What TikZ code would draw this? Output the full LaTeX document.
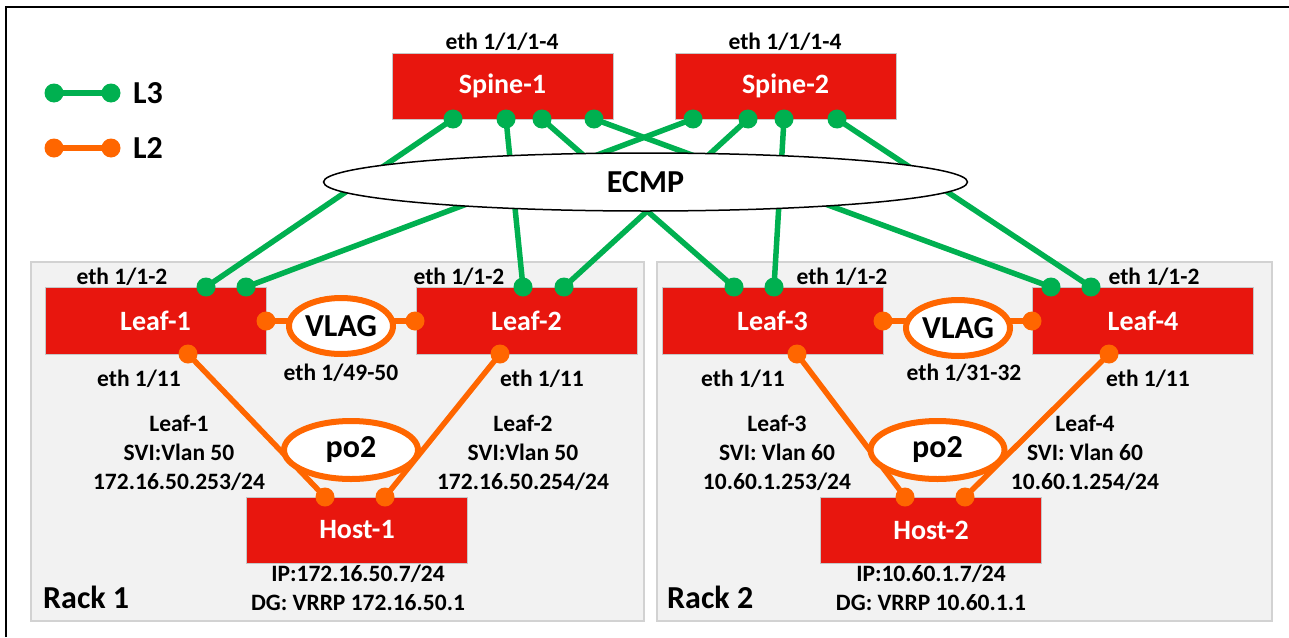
\documentclass[tikz,border=0pt]{standalone}
\usepackage{fontspec}
\setmainfont{Carlito}
\usetikzlibrary{shapes.geometric}

\definecolor{devred}{RGB}{232,22,14}
\definecolor{lthree}{RGB}{0,176,80}
\definecolor{ltwo}{RGB}{255,102,0}
\definecolor{rackfill}{RGB}{242,242,242}
\definecolor{rackline}{RGB}{210,210,210}

\tikzset{
  device/.style={rectangle, fill=devred, draw=black!22, line width=0.6pt,
    minimum width=221pt, minimum height=66pt, inner sep=0pt, text=white,
    font=\fontsize{28}{30}\selectfont\bfseries},
  rackbox/.style={fill=rackfill, draw=rackline, line width=1.5pt},
  lthreelink/.style={draw=lthree, line width=5.5pt},
  ltwolink/.style={draw=ltwo, line width=5.5pt},
  lbl/.style={font=\fontsize{23.5}{29}\selectfont\bfseries, align=center, inner sep=0pt},
  biglbl/.style={font=\fontsize{32}{34}\selectfont\bfseries, inner sep=0pt},
  lagring/.style={ellipse, fill=white, draw=ltwo, line width=6pt, inner sep=0pt,
    font=\fontsize{32}{34}\selectfont\bfseries},
  ecmpring/.style={ellipse, fill=white, draw=black, line width=1.5pt, inner sep=0pt,
    minimum width=644pt, minimum height=58pt, font=\fontsize{32}{34}\selectfont\bfseries},
}

\begin{document}
\begin{tikzpicture}[x=1pt, y=-1pt]
\useasboundingbox (0,0) rectangle (1289,637);

% outer frame (left and top edges)
\draw[line width=1.5pt] (6,637) -- (6,7) -- (1289,7);

% racks
\draw[rackbox] (31,262) rectangle (644,621);
\draw[rackbox] (657,262) rectangle (1272,621);

% port positions
% spine ports (bottom edge)
\coordinate (s1a) at (453,119); \coordinate (s1b) at (506,119);
\coordinate (s1c) at (542,119); \coordinate (s1d) at (594,119);
\coordinate (s2a) at (693,119); \coordinate (s2b) at (748,119);
\coordinate (s2c) at (784,119); \coordinate (s2d) at (837,119);
% leaf uplink ports (top edge)
\coordinate (l1a) at (206,287); \coordinate (l1b) at (246,287);
\coordinate (l2a) at (523,287); \coordinate (l2b) at (564,287);
\coordinate (l3a) at (734,287); \coordinate (l3b) at (774,287);
\coordinate (l4a) at (1051,287); \coordinate (l4b) at (1091,287);
% leaf peer ports (side edge)
\coordinate (l1p) at (266,321); \coordinate (l2p) at (415,321);
\coordinate (l3p) at (883,321); \coordinate (l4p) at (1032,321);
% leaf host ports (bottom edge)
\coordinate (l1h) at (188,354); \coordinate (l2h) at (500,354);
\coordinate (l3h) at (797,354); \coordinate (l4h) at (1109,354);
% host ports (top edge)
\coordinate (h1a) at (325,497); \coordinate (h1b) at (385,497);
\coordinate (h2a) at (905,497); \coordinate (h2b) at (965,497);
% legend
\coordinate (k3a) at (54,93); \coordinate (k3b) at (111,93);
\coordinate (k2a) at (54,148); \coordinate (k2b) at (111,148);

% L3 fabric links
\foreach \u/\v in {s1a/l1a, s1b/l2a, s1c/l3a, s1d/l4a,
                   s2a/l1b, s2b/l2b, s2c/l3b, s2d/l4b, k3a/k3b}
  \draw[lthreelink] (\u) -- (\v);

\node[ecmpring] (ecmp) at (645.5,182) {ECMP};

% L2 links
\foreach \u/\v in {l1p/l2p, l3p/l4p, l1h/h1a, l2h/h1b, l3h/h2a, l4h/h2b, k2a/k2b}
  \draw[ltwolink] (\u) -- (\v);

% devices
\node[device] (spine1) at (502.5,86) {Spine-1};
\node[device] (spine2) at (785.5,86) {Spine-2};
\node[device, minimum height=67pt] (leaf1) at (155.5,320.5) {Leaf-1};
\node[device, minimum height=67pt] (leaf2) at (526.5,320.5) {Leaf-2};
\node[device, minimum height=67pt] (leaf3) at (772.5,320.5) {Leaf-3};
\node[device, minimum height=67pt] (leaf4) at (1143,320.5) {Leaf-4};
\node[device] (host1) at (357,530) {Host-1};
\node[device] (host2) at (931,530) {Host-2};

% link aggregation rings
\node[lagring, minimum width=104pt, minimum height=56pt] (vlag1) at (341,326) {VLAG};
\node[lagring, minimum width=104pt, minimum height=56pt] (vlag2) at (958,328) {VLAG};
\node[lagring, minimum width=134pt, minimum height=58pt] (po1) at (351,450) {po2};
\node[lagring, minimum width=134pt, minimum height=58pt] (po2) at (937.5,450) {po2};

% port dots
\foreach \p in {s1a,s1b,s1c,s1d,s2a,s2b,s2c,s2d,l1a,l1b,l2a,l2b,l3a,l3b,l4a,l4b,k3a,k3b}
  \fill[lthree] (\p) circle (9.5pt);
\foreach \p in {l1p,l2p,l3p,l4p,l1h,l2h,l3h,l4h,h1a,h1b,h2a,h2b,k2a,k2b}
  \fill[ltwo] (\p) circle (9.5pt);

% legend text
\node[biglbl, anchor=west] (keythree) at (133,93) {L3};
\node[biglbl, anchor=west] (keytwo) at (133,148) {L2};

% interface labels
\node[lbl] (sp1if) at (502,42) {eth 1/1/1-4};
\node[lbl] (sp2if) at (785,42) {eth 1/1/1-4};
\node[lbl] (lf1up) at (122,277) {eth 1/1-2};
\node[lbl] (lf2up) at (459,277) {eth 1/1-2};
\node[lbl] (lf3up) at (842,277) {eth 1/1-2};
\node[lbl] (lf4up) at (1154,277) {eth 1/1-2};
\node[lbl] (peer1) at (341,373) {eth 1/49-50};
\node[lbl] (peer2) at (964,373) {eth 1/31-32};
\node[lbl] (lf1dn) at (139,379) {eth 1/11};
\node[lbl] (lf2dn) at (542,379) {eth 1/11};
\node[lbl] (lf3dn) at (743,379) {eth 1/11};
\node[lbl] (lf4dn) at (1148,379) {eth 1/11};

% SVI blocks
\node[lbl] (svi1) at (179,453) {Leaf-1\\SVI:Vlan 50\\172.16.50.253/24};
\node[lbl] (svi2) at (523,453) {Leaf-2\\SVI:Vlan 50\\172.16.50.254/24};
\node[lbl] (svi3) at (777,453) {Leaf-3\\SVI: Vlan 60\\10.60.1.253/24};
\node[lbl] (svi4) at (1085,453) {Leaf-4\\SVI: Vlan 60\\10.60.1.254/24};

% host addressing
\node[lbl] (hip1) at (358,587.5) {IP:172.16.50.7/24\\DG: VRRP 172.16.50.1};
\node[lbl] (hip2) at (931,587.5) {IP:10.60.1.7/24\\DG: VRRP 10.60.1.1};

% rack names
\node[biglbl, anchor=west] (rack1) at (43,597) {Rack 1};
\node[biglbl, anchor=west] (rack2) at (667,597) {Rack 2};
\end{tikzpicture}
\end{document}
